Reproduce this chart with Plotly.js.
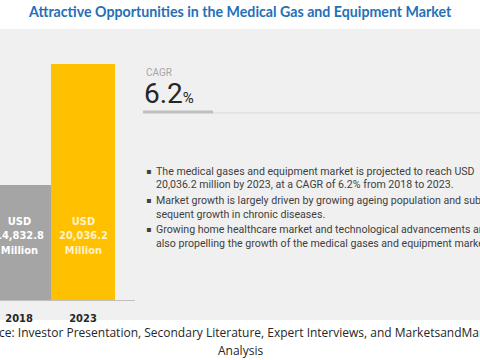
<!DOCTYPE html>
<html>
<head>
<meta charset="utf-8">
<script src="https://cdn.plot.ly/plotly-3.0.1.min.js"></script>
<style>html,body{margin:0;padding:0;background:#fff;}#chart{width:480px;height:360px;}</style>
</head>
<body>
<div id="chart"></div>
<script>
// ---- data ----
const years = ['2018', '2023'];
const marketValues = [14832.8, 20036.2];   // USD million
const barColors = ['#a5a5a5', '#ffc000'];
const labelColors = ['#ffffff', '#fff2cc'];
const cagrValue = '6.2';
const bullets = [
  ['The medical gases and equipment market is projected to reach USD', '20,036.2 million by 2023, at a CAGR of 6.2% from 2018 to 2023.'],
  ['Market growth is largely driven by growing ageing population and sub-', 'sequent growth in chronic diseases.'],
  ['Growing home healthcare market and technological advancements are', 'also propelling the growth of the medical gases and equipment market.']
];
const titleText = 'Attractive Opportunities in the Medical Gas and Equipment Market';
const sourceLines = ['Source: Investor Presentation, Secondary Literature, Expert Interviews, and MarketsandMarkets', 'Analysis'];

const W = 480, H = 360;
const px = x => x / W;
const py = y => 1 - y / H;

const fmt = v => v.toLocaleString('en-US', {minimumFractionDigits: 1, maximumFractionDigits: 1});

const trace = {
  type: 'bar',
  x: years,
  y: marketValues,
  marker: {color: barColors, line: {width: 0}},
  hoverinfo: 'none'
};

const annotations = [];
// bar labels (x given as category index)
years.forEach((yr, i) => {
  annotations.push({
    xref: 'x', yref: 'paper', x: i, y: py(236), xanchor: 'center', yanchor: 'middle',
    text: '<b>USD<br>' + fmt(marketValues[i]) + '<br>Million</b>',
    showarrow: false, align: 'center',
    font: {family: 'DejaVu Sans Condensed, Roboto, sans-serif', size: 11, color: labelColors[i]}
  });
});
// title
annotations.push({
  xref: 'paper', yref: 'paper', x: 0.5, y: py(11), xanchor: 'center', yanchor: 'middle',
  text: '<b>' + titleText + '</b>', showarrow: false,
  font: {family: 'Lato, Open Sans, sans-serif', size: 14.2, color: '#2470b8'}
});
// CAGR
annotations.push({
  xref: 'paper', yref: 'paper', x: px(144), y: py(73), xanchor: 'left', yanchor: 'middle',
  text: 'CAGR', showarrow: false,
  font: {family: 'Roboto, sans-serif', size: 10, color: '#a6a6a6'}
});
annotations.push({
  xref: 'paper', yref: 'paper', x: px(142), y: py(94), xanchor: 'left', yanchor: 'middle',
  text: cagrValue + '<span style="font-size:15px">%</span>', showarrow: false,
  font: {family: 'Roboto, sans-serif', size: 28, color: '#262626'}
});
// bullets
const bulletY = [171, 200, 229];
bullets.forEach((lines, i) => {
  annotations.push({
    xref: 'paper', yref: 'paper', x: px(144), y: py(bulletY[i]), xanchor: 'left', yanchor: 'middle',
    text: '▪', showarrow: false,
    font: {family: 'DejaVu Sans, sans-serif', size: 8, color: '#404040'}
  });
  lines.forEach((ln, j) => {
    annotations.push({
      xref: 'paper', yref: 'paper', x: px(154), y: py(bulletY[i] + j * 14), xanchor: 'left', yanchor: 'middle',
      text: ln, showarrow: false,
      font: {family: 'Roboto, sans-serif', size: 10.6, color: '#404040'}
    });
  });
});
// source
sourceLines.forEach((ln, j) => {
  annotations.push({
    xref: 'paper', yref: 'paper', x: 0.5, y: py(332 + j * 18), xanchor: 'center', yanchor: 'middle',
    text: ln, showarrow: false,
    font: {family: 'Open Sans, sans-serif', size: 12, color: '#262626'}
  });
});

const shapes = [
  {type: 'rect', xref: 'paper', yref: 'paper', x0: 0, x1: 1, y0: py(320), y1: py(29),
   fillcolor: '#f0f0f0', line: {width: 0}, layer: 'below'},
  {type: 'rect', xref: 'paper', yref: 'paper', x0: px(143), x1: px(213), y0: py(113.5), y1: py(110.5),
   fillcolor: '#bfbfbf', line: {width: 0}},
  {type: 'line', xref: 'paper', yref: 'paper', x0: px(213), x1: 1, y0: py(113), y1: py(113),
   line: {color: '#d9d9d9', width: 1}}
];

const layout = {
  width: W, height: H,
  margin: {l: 0, r: 0, t: 0, b: 0},
  paper_bgcolor: '#ffffff',
  plot_bgcolor: 'rgba(0,0,0,0)',
  showlegend: false,
  bargap: 0,
  xaxis: {
    domain: [0, 135 / W],
    type: 'category',
    range: [-0.297, 1.8125],
    showgrid: false, zeroline: false,
    showline: true, linecolor: '#bfbfbf', linewidth: 1,
    ticks: '', ticklabelstandoff: 8,
    tickfont: {family: 'DejaVu Sans Condensed, Roboto, sans-serif', size: 11, color: '#262626', weight: 'bold'},
    fixedrange: true
  },
  yaxis: {
    domain: [py(300), py(64)],
    range: [9893, 20036.2],
    visible: false, showgrid: false, zeroline: false, fixedrange: true
  },
  shapes: shapes,
  annotations: annotations
};

Plotly.newPlot('chart', [trace], layout, {staticPlot: true, displayModeBar: false});
</script>
</body>
</html>
